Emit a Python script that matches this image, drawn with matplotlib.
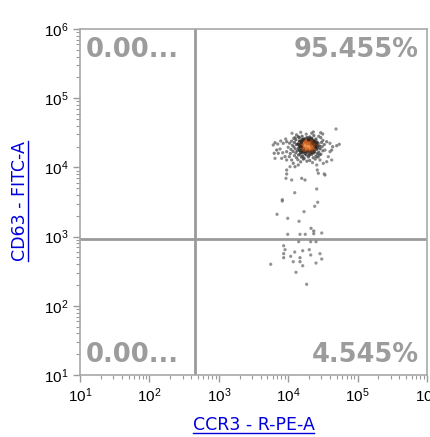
import numpy as np
import matplotlib
matplotlib.use('Agg')
import matplotlib.pyplot as plt
from matplotlib.lines import Line2D
from matplotlib.colors import LinearSegmentedColormap
from matplotlib.ticker import LogLocator, LogFormatterSciNotation

plt.rcParams['font.family'] = ['Liberation Sans', 'DejaVu Sans']
plt.rcParams['mathtext.fontset'] = 'custom'
plt.rcParams['mathtext.rm'] = 'Liberation Sans'

# events, log10 of intensity (CCR3 on x, CD63 on y)
ccr3_log = [
    # dense cluster
    4.12, 4.20, 4.26, 4.31, 4.37, 4.44, 4.08, 4.16, 4.22, 4.27, 4.30, 4.34, 4.40, 4.47,
    4.05, 4.11, 4.18, 4.21, 4.25, 4.29, 4.33, 4.36, 4.41, 4.50, 4.02, 4.09, 4.14, 4.19,
    4.23, 4.26, 4.28, 4.31, 4.35, 4.38, 4.43, 4.48, 4.06, 4.12, 4.17, 4.20, 4.24, 4.27,
    4.29, 4.32, 4.34, 4.37, 4.40, 4.45, 4.52, 4.00, 4.08, 4.15, 4.19, 4.22, 4.25, 4.27,
    4.30, 4.33, 4.35, 4.39, 4.42, 4.49, 4.04, 4.10, 4.16, 4.21, 4.23, 4.26, 4.28, 4.31,
    4.34, 4.36, 4.41, 4.46, 4.53, 4.07, 4.13, 4.18, 4.22, 4.25, 4.29, 4.32, 4.35, 4.38,
    4.44, 4.50, 4.03, 4.11, 4.17, 4.20, 4.24, 4.28, 4.31, 4.37, 4.42, 4.47, 4.09, 4.15,
    4.21, 4.26, 4.30, 4.34, 4.40, 4.45, 4.12, 4.19, 4.23, 4.29, 4.36, 4.43, 4.14, 4.22,
    4.31, 4.39, 4.18, 4.27, 4.35,
    # cluster centre
    4.16, 4.20, 4.24, 4.28, 4.33, 4.38, 4.41, 4.18, 4.22, 4.26, 4.30, 4.35, 4.39, 4.17,
    4.21, 4.25, 4.29, 4.32, 4.36, 4.40, 4.19, 4.23, 4.27, 4.31, 4.34, 4.37, 4.15, 4.24,
    4.28, 4.33, 4.42, 4.20, 4.26, 4.30, 4.36, 4.22, 4.29, 4.34, 4.18, 4.25, 4.31, 4.38,
    4.21, 4.27, 4.32, 4.23, 4.35, 4.28, 4.19, 4.30,
    # cluster edge
    4.689, 4.055, 4.180, 4.339, 4.362, 4.468, 4.497, 4.098, 4.145, 3.964, 3.978, 3.892,
    3.929, 3.849, 3.810, 3.785, 4.555, 4.602, 4.736, 4.699, 4.641, 4.627, 3.834, 3.882,
    3.798, 3.857, 3.921, 3.978, 3.954, 4.016, 4.050, 3.978, 3.906, 3.810, 4.073, 4.145,
    4.098, 4.026, 3.978, 4.602, 4.578, 4.627, 4.555, 4.506, 4.411, 4.458, 4.434, 4.530,
    3.968, 4.050, 4.195, 4.242, 4.411, 3.978, 4.419, 4.520,
    # tail above gate
    4.094, 3.915, 3.915, 4.425, 4.382, 4.228, 3.839, 3.993, 4.156, 4.329, 4.368, 4.368,
    3.993, 4.170, 4.246, 4.483,
    # below gate
    3.935, 3.954, 3.935, 3.935, 4.094, 4.036, 4.209, 4.304, 4.324, 4.170, 4.073, 4.170,
    4.458, 4.483, 4.401, 4.209, 3.748, 4.112, 4.266, 4.151, 4.324, 4.401,
]
cd63_log = [
    4.47, 4.45, 4.48, 4.44, 4.46, 4.45, 4.42, 4.43, 4.41, 4.43, 4.40, 4.42, 4.41, 4.43,
    4.38, 4.40, 4.38, 4.39, 4.37, 4.40, 4.38, 4.39, 4.37, 4.39, 4.35, 4.36, 4.34, 4.36,
    4.35, 4.37, 4.34, 4.36, 4.35, 4.37, 4.35, 4.36, 4.32, 4.33, 4.31, 4.33, 4.32, 4.34,
    4.31, 4.33, 4.30, 4.32, 4.33, 4.31, 4.33, 4.29, 4.30, 4.28, 4.30, 4.29, 4.31, 4.28,
    4.30, 4.29, 4.27, 4.30, 4.28, 4.30, 4.26, 4.27, 4.25, 4.27, 4.25, 4.28, 4.26, 4.27,
    4.25, 4.28, 4.26, 4.27, 4.25, 4.23, 4.24, 4.22, 4.24, 4.22, 4.24, 4.22, 4.24, 4.23,
    4.22, 4.24, 4.20, 4.21, 4.19, 4.21, 4.20, 4.22, 4.19, 4.21, 4.20, 4.19, 4.17, 4.18,
    4.16, 4.18, 4.17, 4.19, 4.16, 4.18, 4.14, 4.15, 4.13, 4.15, 4.14, 4.15, 4.11, 4.12,
    4.10, 4.12, 4.08, 4.09, 4.07,
    4.38, 4.40, 4.37, 4.39, 4.41, 4.38, 4.35, 4.34, 4.36, 4.33, 4.35, 4.37, 4.32, 4.30,
    4.31, 4.29, 4.32, 4.28, 4.31, 4.29, 4.26, 4.27, 4.25, 4.28, 4.24, 4.26, 4.33, 4.41,
    4.36, 4.34, 4.31, 4.29, 4.30, 4.27, 4.34, 4.23, 4.26, 4.22, 4.24, 4.34, 4.39, 4.36,
    4.33, 4.38, 4.25, 4.30, 4.31, 4.32, 4.37, 4.42,
    4.555, 4.493, 4.507, 4.493, 4.512, 4.501, 4.483, 4.429, 4.444, 4.410, 4.371, 4.382,
    4.348, 4.338, 4.357, 4.324, 4.371, 4.348, 4.334, 4.314, 4.299, 4.251, 4.251, 4.266,
    4.204, 4.204, 4.212, 4.227, 4.155, 4.155, 4.107, 4.107, 4.131, 4.131, 4.059, 4.035,
    4.010, 4.010, 3.962, 4.227, 4.155, 4.107, 4.082, 4.059, 4.035, 4.107, 3.915, 3.890,
    3.842, 3.818, 3.842, 3.818, 3.688, 3.905, 3.962, 3.905,
    3.634, 3.533, 3.514, 3.496, 3.438, 3.360, 3.322, 3.264, 3.221, 3.120, 3.081, 3.042,
    3.033, 3.033, 3.033, 3.052,
    2.868, 2.811, 2.753, 2.695, 2.777, 2.715, 2.796, 2.811, 2.734, 2.695, 2.637, 2.637,
    2.753, 2.676, 2.618, 2.579, 2.600, 2.484, 2.311, 2.926, 2.926, 2.926,
]

gate_x = 447     # CCR3 quadrant threshold
gate_y = 920     # CD63 quadrant threshold
quad_labels = ['0.00...', '95.455%', '0.00...', '4.545%']  # UL, UR, LL, LR

lx = np.array(ccr3_log)
ly = np.array(cd63_log)

# density colouring (neighbour count in log space)
d = np.sqrt((lx[:, None] - lx[None, :]) ** 2 + (ly[:, None] - ly[None, :]) ** 2)
dens = (d < 0.06).sum(axis=1).astype(float)
dens = (dens - dens.min()) / (dens.max() - dens.min())
cmap = LinearSegmentedColormap.from_list(
    'flow', ['#7a7a7a', '#4a4a4a', '#2c2c2c', '#3a2214', '#c2561c', '#f0a050'])

fig = plt.figure(figsize=(4.3, 4.37), dpi=100)
ax = fig.add_axes([80 / 430, 62 / 437, 347 / 430, 346 / 437])

# draw in reverse list order so cluster dots sit over the hot centre
ax.scatter(10 ** lx[::-1], 10 ** ly[::-1], c=dens[::-1], cmap=cmap,
           s=5.5, linewidths=0, alpha=0.8, zorder=3)

ax.set_xscale('log')
ax.set_yscale('log')
ax.set_xlim(10, 1e6)
ax.set_ylim(10, 1e6)

ax.axvline(gate_x, color='#9a9a9a', lw=2.0, zorder=2)
ax.axhline(gate_y, color='#9a9a9a', lw=2.0, zorder=2)

for s in ax.spines.values():
    s.set_color('#a8a8a8')
    s.set_linewidth(1.2)

for axis in (ax.xaxis, ax.yaxis):
    axis.set_major_locator(LogLocator(base=10, numticks=10))
    axis.set_minor_locator(LogLocator(base=10, subs=np.arange(2, 10), numticks=10))
    axis.set_major_formatter(LogFormatterSciNotation())
ax.tick_params(which='major', length=5, width=1, color='#9a9a9a', labelsize=11,
               direction='out', pad=3)
ax.tick_params(which='minor', length=3, width=0.8, color='#9a9a9a')

qkw = dict(transform=ax.transAxes, color='#9c9c9c', fontsize=18.5,
           fontweight='bold', family='DejaVu Sans', va='baseline')
ax.text(0.017, 0.918, quad_labels[0], ha='left', **qkw)
ax.text(0.977, 0.918, quad_labels[1], ha='right', **qkw)
ax.text(0.017, 0.037, quad_labels[2], ha='left', **qkw)
ax.text(0.977, 0.037, quad_labels[3], ha='right', **qkw)

xl = fig.text(253.5 / 430, 1 - 425 / 437, 'CCR3 - R-PE-A', color='#0000dd',
              fontsize=12.5, family='DejaVu Sans', ha='center', va='center')
yl = fig.text(20 / 430, 1 - 201 / 437, 'CD63 - FITC-A', color='#0000dd',
              fontsize=12.5, family='DejaVu Sans', ha='center', va='center',
              rotation=90)

# underline the axis labels
fig.canvas.draw()
r = fig.canvas.get_renderer()
W, H = fig.bbox.width, fig.bbox.height
bb = xl.get_window_extent(r)
y0 = (bb.y0 + 1) / H
fig.add_artist(Line2D([bb.x0 / W, bb.x1 / W], [y0, y0], color='#0000dd', lw=1,
                      transform=fig.transFigure))
bb = yl.get_window_extent(r)
x0 = (bb.x1 - 1) / W
fig.add_artist(Line2D([x0, x0], [bb.y0 / H, bb.y1 / H], color='#0000dd', lw=1,
                      transform=fig.transFigure))

fig.savefig('out.png', dpi=100)
